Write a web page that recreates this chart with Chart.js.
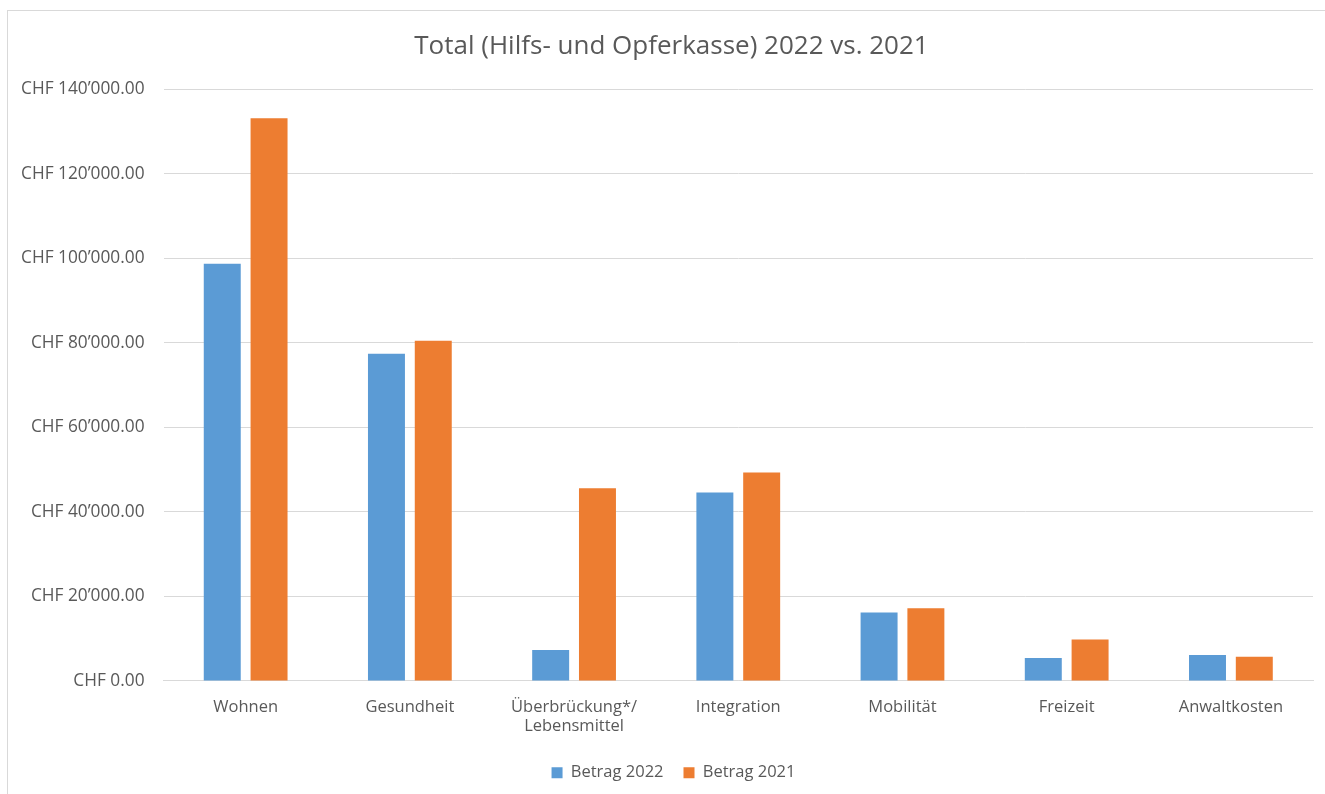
<!doctype html>
<html lang="de">
  <head>
    <title>Total (Hilfs- und Opferkasse) 2022 vs. 2021</title>
    <style>
      body{
        margin: 0;
        background: #ffffff;
      }
      #frame{
        position: absolute;
        left: 7px;
        top: 10px;
        width: 1330px;
        height: 800px;
        border: 1px solid #d9d9d9;
        box-sizing: border-box;
      }
      #graph{
        position: absolute;
        left: 8px;
        top: 11px;
        width: 1317px;
        height: 783px;
      }
    </style>
  </head>
  <body>
    <div id="frame"></div>
    <div id="graph"><canvas id="totals"></canvas></div>
  </body>
  <script src="https://cdn.jsdelivr.net/npm/chart.js"></script>
<script>
  const categories = ["Wohnen", "Gesundheit", ["Überbrückung*/", "Lebensmittel"], "Integration", "Mobilität", "Freizeit", "Anwaltkosten"];
  const betrag2022 = [98700, 77400, 7300, 44600, 16200, 5400, 6100];
  const betrag2021 = [133100, 80500, 45600, 49300, 17200, 9800, 5700];
  const yTicks = [0, 20000, 40000, 60000, 80000, 100000, 120000, 140000];

  // CHF format like the original: 140’000.00
  function chf(v){
    let s = Math.round(v).toString().replace(/\B(?=(\d{3})+(?!\d))/g, "\u2019");
    return "CHF " + s + ".00";
  }

  Chart.defaults.font.family = "'Open Sans', sans-serif";
  Chart.defaults.color = "#595959";

  // in the original the title and legend sit a bit right of the plot centre
  const nudge = {
    id: 'nudge',
    afterLayout(chart){
      if (chart.titleBlock){ chart.titleBlock.left += 14; chart.titleBlock.right += 14; }
      if (chart.legend){ chart.legend.left += 16; chart.legend.right += 16; }
    }
  };

  var myChart = new Chart(
    document.getElementById('totals'),
    {
      type: 'bar',
      plugins: [nudge],
      data: {
        labels: categories,
        datasets: [
          {
            label: 'Betrag 2022',
            data: betrag2022,
            backgroundColor: '#5b9bd5',
            barPercentage: 0.79,
            categoryPercentage: 0.57
          },
          {
            label: 'Betrag 2021',
            data: betrag2021,
            backgroundColor: '#ed7d31',
            barPercentage: 0.79,
            categoryPercentage: 0.57
          }
        ]
      },
      options: {
        responsive: true,
        maintainAspectRatio: false,
        animation: false,
        layout: {
          padding: {left: -6, right: 12, top: 20, bottom: 3}
        },
        scales: {
          x: {
            grid: {
              display: false
            },
            border: {
              color: '#d9d9d9'
            },
            ticks: {
              font: {size: 16.5},
              padding: 8
            }
          },
          y: {
            min: 0,
            max: 140000,
            afterBuildTicks: function(axis){
              axis.ticks = yTicks.map(v => ({value: v}));
            },
            grid: {
              color: '#d9d9d9',
              lineWidth: 1,
              drawTicks: false
            },
            border: {
              display: false
            },
            ticks: {
              font: {size: 17.3},
              padding: 19,
              callback: function(v){ return chf(v); }
            }
          }
        },
        plugins: {
          title: {
            display: true,
            text: 'Total (Hilfs- und Opferkasse) 2022 vs. 2021',
            font: {size: 26, weight: 'normal'},
            color: '#595959',
            padding: {top: 0, bottom: 27}
          },
          legend: {
            display: true,
            position: 'bottom',
            labels: {
              boxWidth: 11,
              boxHeight: 11,
              font: {size: 16.5},
              padding: 20
            }
          },
          tooltip: {
            enabled: false
          }
        }
      }
    }
  );
</script>
</html>
